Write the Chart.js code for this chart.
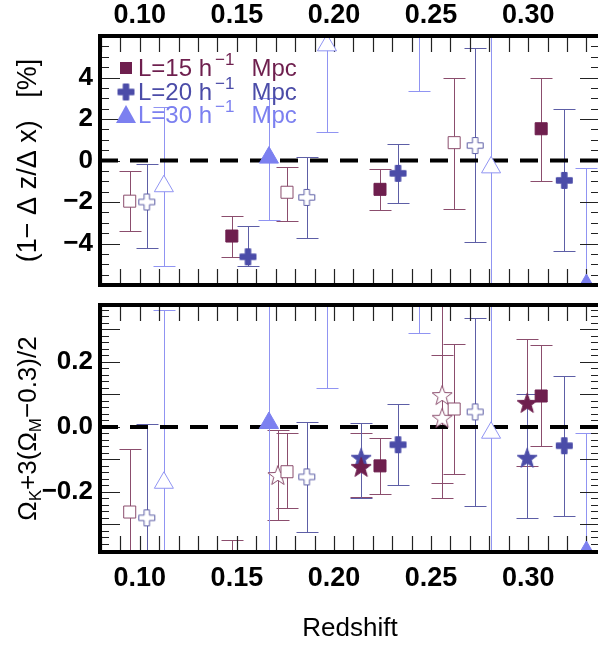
<!DOCTYPE html>
<html>
<head>
<meta charset="utf-8">
<script src="https://cdn.jsdelivr.net/npm/chart.js@4.4.1/dist/chart.umd.min.js"></script>
<style>
html, body { margin: 0; padding: 0; background: #fff; overflow: hidden; width: 598px; height: 645px; }
canvas { position: absolute; left: 0; }
#top { top: 0; }
#bot { top: 290px; }
</style>
</head>
<body>
<canvas id="top" width="604" height="290"></canvas>
<canvas id="bot" width="604" height="355"></canvas>
<script>
// 横轴：红移
const zMin = 0.0795, zMax = 0.337;
const zTicks = [0.10, 0.15, 0.20, 0.25, 0.30];

// 纵轴范围与刻度
const dMin = -6, dMax = 6;
const dTicks = [-4, -2, 0, 2, 4];
const oMin = -0.385, oMax = 0.375;
const oTicks = [-0.2, 0.0, 0.2];

// 各组的红移位置（实心 / 空心）
const zFill15 = [0.1474, 0.2237, 0.3067];
const zOpen15 = [0.0948, 0.1758, 0.2619];
const zFill20 = [0.1557, 0.2330, 0.3186];
const zOpen20 = [0.1036, 0.1860, 0.2727];
const zFill30 = [0.1665, 0.2438, 0.3300];
const zOpen30 = [0.1124, 0.1964, 0.2809];

// 上图 (1-Δz/Δx) [%]：值、误差上端、误差下端
const dFill15 = [-3.64, -1.39, 1.53], dFill15Hi = [-2.68, -0.43, 3.97], dFill15Lo = [-4.64, -2.39, -1.00];
const dOpen15 = [-1.96, -1.53, 0.86], dOpen15Hi = [-0.53, -0.29, 4.00], dOpen15Lo = [-3.40, -2.90, -2.34];
const dFill20 = [-4.64, -0.62, -0.96], dFill20Hi = [-3.16, 0.81, 2.49], dFill20Lo = [-5.07, -2.06, -4.35];
const dOpen20 = [-2.00, -1.78, 0.72], dOpen20Hi = [-0.19, 0.19, 5.40], dOpen20Lo = [-4.20, -3.74, -3.92];
const dFill30 = [0.14, 8.00, -6.00], dFill30Hi = [3.00, 12.0, -0.35], dFill30Lo = [-2.87, 3.35, -12.0];
const dOpen30 = [-1.24, 5.55, -0.33], dOpen30Hi = [2.60, 12.0, 10.0], dOpen30Lo = [-5.10, 1.39, -10.0];

// 下图 ΩK+3(ΩM-0.3)/2
const oFill15 = [-0.45, -0.120, 0.095], oFill15Hi = [-0.348, -0.034, 0.252], oFill15Lo = [-0.55, -0.206, -0.058];
const oOpen15 = [-0.262, -0.138, 0.055], oOpen15Hi = [-0.068, -0.018, 0.255], oOpen15Lo = [-0.50, -0.250, -0.145];
const oFill20 = [-0.50, -0.055, -0.058], oFill20Hi = [-0.42, 0.071, 0.157], oFill20Lo = [-0.60, -0.180, -0.274];
const oOpen20 = [-0.280, -0.154, 0.046], oOpen20Hi = [0.010, 0.015, 0.335], oOpen20Lo = [-0.50, -0.323, -0.243];
const oFill30 = [0.012, 0.50, -0.385], oFill30Hi = [0.45, 0.70, -0.020], oFill30Lo = [-0.50, 0.290, -0.70];
const oOpen30 = [-0.172, 0.50, -0.018], oOpen30Hi = [0.360, 0.70, 0.45], oOpen30Lo = [-0.50, 0.120, -0.50];

// 下图的星号点
const zStarA = [0.2140, 0.2995], oStarA = [-0.123, 0.074], oStarAHi = [-0.020, 0.270], oStarALo = [-0.215, -0.120];
const zStarB = [0.2140, 0.2995], oStarB = [-0.095, -0.095], oStarBHi = [0.012, 0.100], oStarBLo = [-0.220, -0.280];
const zStarO = [0.1711, 0.2557, 0.2557], oStarO = [-0.148, 0.098, 0.028], oStarOHi = [-0.010, 0.450, 0.220], oStarOLo = [-0.286, -0.218, -0.172];

// 图例
const keyLabels = ['L=15 h', 'L=20 h', 'L=30 h'];

// 颜色
const c15 = '#6e1f4e', c20 = '#4b4ca8', c30 = '#7c80f0';
const e15 = '#8b4d6d', e20 = '#5d5ea6', e30 = '#9094f2';

const FONT = '"Liberation Sans", Arial, Helvetica, sans-serif';

// 粗十字
function plusImg(fill, stroke) {
    const c = document.createElement('canvas');
    c.width = c.height = 19;
    const g = c.getContext('2d');
    const m = 9.5, h = 8, a = 2.7;
    g.beginPath();
    g.moveTo(m - a, m - h); g.lineTo(m + a, m - h); g.lineTo(m + a, m - a); g.lineTo(m + h, m - a);
    g.lineTo(m + h, m + a); g.lineTo(m + a, m + a); g.lineTo(m + a, m + h); g.lineTo(m - a, m + h);
    g.lineTo(m - a, m + a); g.lineTo(m - h, m + a); g.lineTo(m - h, m - a); g.lineTo(m - a, m - a);
    g.closePath();
    g.fillStyle = fill; g.fill();
    g.strokeStyle = stroke; g.lineWidth = 1; g.stroke();
    return c;
}

// 五角星
function starImg(fill, stroke) {
    const c = document.createElement('canvas');
    c.width = c.height = 24;
    const g = c.getContext('2d');
    const m = 12, R = 10.5, r = 4.3;
    g.beginPath();
    for (let i = 0; i < 10; i++) {
        const rr = i % 2 === 0 ? R : r;
        const ang = -Math.PI / 2 + i * Math.PI / 5;
        const px = m + rr * Math.cos(ang), py = m + 1 + rr * Math.sin(ang);
        if (i === 0) g.moveTo(px, py); else g.lineTo(px, py);
    }
    g.closePath();
    g.fillStyle = fill; g.fill();
    g.strokeStyle = stroke; g.lineWidth = 1; g.stroke();
    return c;
}

const plusFill = plusImg(c20, c20);
const plusOpen = plusImg('#fff', e20);
const starA = starImg(c15, c15);
const starB = starImg(c20, c20);
const starO = starImg('#fff', e15);

function series(xs, ys, hi, lo, color, errColor, style, open, radius) {
    return {
        data: xs.map((x, i) => ({ x: x, y: ys[i] })),
        errHi: hi,
        errLo: lo,
        errColor: errColor,
        pointStyle: style,
        pointRadius: radius,
        pointBackgroundColor: open ? '#fff' : color,
        pointBorderColor: open ? errColor : color,
        pointBorderWidth: 1,
        clip: 0,
        order: 1
    };
}

function zeroLine() {
    return {
        type: 'line',
        data: [{ x: zMin, y: 0 }, { x: zMax, y: 0 }],
        borderColor: '#000',
        borderWidth: 4,
        borderDash: [18, 12],
        pointRadius: 0,
        showLine: true,
        clip: 0,
        order: 100
    };
}

// 误差棒（画在数据点下面）
const errorBars = {
    id: 'errorBars',
    beforeDatasetsDraw(chart) {
        const { ctx, chartArea: a, scales: { x, y } } = chart;
        ctx.save();
        ctx.beginPath();
        ctx.rect(a.left, a.top, a.width, a.height);
        ctx.clip();
        ctx.lineWidth = 1;
        chart.data.datasets.forEach(ds => {
            if (!ds.errHi) return;
            ctx.strokeStyle = ds.errColor;
            ds.data.forEach((p, i) => {
                const px = Math.round(x.getPixelForValue(p.x)) + 0.5;
                const yh = Math.round(y.getPixelForValue(ds.errHi[i])) + 0.5;
                const yl = Math.round(y.getPixelForValue(ds.errLo[i])) + 0.5;
                ctx.beginPath();
                ctx.moveTo(px, yh); ctx.lineTo(px, yl);
                ctx.moveTo(px - 11, yh); ctx.lineTo(px + 11, yh);
                ctx.moveTo(px - 11, yl); ctx.lineTo(px + 11, yl);
                ctx.stroke();
            });
        });
        ctx.restore();
    }
};

// 边框和内向刻度
const frame = {
    id: 'frame',
    beforeDatasetsDraw(chart, args, opts) {
        const { ctx, chartArea: a, scales: { x, y } } = chart;
        ctx.save();
        ctx.strokeStyle = '#222';
        ctx.lineWidth = 1.2;
        ctx.beginPath();
        for (let k = Math.ceil(x.min * 100); k <= Math.floor(x.max * 100); k++) {
            const px = Math.round(x.getPixelForValue(k / 100)) + 0.5;
            ctx.moveTo(px, a.top); ctx.lineTo(px, a.top + 16);
            ctx.moveTo(px, a.bottom); ctx.lineTo(px, a.bottom - 16);
        }
        const n0 = Math.ceil(y.min / opts.minor - 1e-6), n1 = Math.floor(y.max / opts.minor + 1e-6);
        for (let k = n0; k <= n1; k++) {
            const v = k * opts.minor;
            const major = Math.abs(v / opts.major - Math.round(v / opts.major)) < 1e-6;
            const len = major ? 20 : 9;
            const py = Math.round(y.getPixelForValue(v)) + 0.5;
            ctx.moveTo(a.left, py); ctx.lineTo(a.left + len, py);
            ctx.moveTo(a.right, py); ctx.lineTo(a.right - len, py);
        }
        ctx.stroke();
        ctx.restore();
    },
    afterDatasetsDraw(chart) {
        const { ctx, chartArea: a } = chart;
        ctx.save();
        ctx.strokeStyle = '#000';
        ctx.lineWidth = 4;
        ctx.strokeRect(a.left, a.top, a.width, a.height);
        ctx.restore();
    }
};

// 图例（上图左上角）
const keyBox = {
    id: 'keyBox',
    afterDraw(chart) {
        const ctx = chart.ctx;
        const rows = [
            { y: 68, color: c15, mark: 'rect' },
            { y: 92, color: c20, mark: 'plus' },
            { y: 115, color: c30, mark: 'tri' }
        ];
        ctx.save();
        rows.forEach((r, i) => {
            ctx.fillStyle = r.color;
            if (r.mark === 'rect') {
                ctx.fillRect(120, r.y - 6, 12, 12);
            } else if (r.mark === 'plus') {
                ctx.drawImage(plusFill, 126 - 9.5, r.y - 9.5);
            } else {
                ctx.beginPath();
                ctx.moveTo(126, r.y - 10); ctx.lineTo(136, r.y + 8); ctx.lineTo(116, r.y + 8);
                ctx.closePath(); ctx.fill();
            }
            const base = r.y + 8;
            let tx = 138;
            ctx.font = '24px ' + FONT;
            ctx.textBaseline = 'alphabetic';
            ctx.fillText(keyLabels[i], tx, base);
            tx += ctx.measureText(keyLabels[i]).width + 3;
            ctx.font = '17px ' + FONT;
            ctx.fillText('−1', tx, base - 11);
            tx += ctx.measureText('−1').width + 17;
            ctx.font = '24px ' + FONT;
            ctx.fillText('Mpc', tx, base);
        });
        ctx.restore();
    }
};

// 下图纵轴标题（带下标）
const omegaTitle = {
    id: 'omegaTitle',
    afterDraw(chart) {
        const { ctx, chartArea: a } = chart;
        const segs = [['Ω', 0], ['K', 1], ['+3(Ω', 0], ['M', 1], ['−0.3)/2', 0]];
        const big = '26px ' + FONT, small = '17px ' + FONT;
        ctx.save();
        let total = 0;
        segs.forEach(s => { ctx.font = s[1] ? small : big; total += ctx.measureText(s[0]).width; });
        ctx.translate(27, (a.top + a.bottom) / 2);
        ctx.rotate(-Math.PI / 2);
        ctx.fillStyle = '#000';
        ctx.textBaseline = 'alphabetic';
        let tx = -total / 2;
        segs.forEach(s => {
            ctx.font = s[1] ? small : big;
            ctx.fillText(s[0], tx, s[1] ? 14 : 9);
            tx += ctx.measureText(s[0]).width;
        });
        ctx.restore();
    }
};

const xFont = { family: FONT, size: 27, weight: 'bold' };
const yFont = { family: FONT, size: 26, weight: 'bold' };
const fmtD = v => (v < 0 ? '−' + Math.abs(v) : String(v));
const fmtO = v => (Math.abs(v) < 1e-9 ? '0.0' : (v < 0 ? '−' + Math.abs(v).toFixed(1) : v.toFixed(1)));

function xScale(pos, h, title) {
    return {
        type: 'linear',
        position: pos,
        min: zMin,
        max: zMax,
        grid: { display: false, drawTicks: false },
        border: { display: false },
        afterBuildTicks: s => { s.ticks = zTicks.map(v => ({ value: v })); },
        afterFit: s => { s.height = h; s.paddingLeft = 0; s.paddingRight = 0; },
        ticks: {
            padding: pos === 'top' ? 4 : 10,
            font: xFont,
            color: '#000',
            maxRotation: 0,
            autoSkip: false,
            callback: v => v.toFixed(2)
        },
        title: title ? { display: true, text: title, color: '#000', font: { family: FONT, size: 26 }, padding: { top: 0, bottom: 1 } } : { display: false }
    };
}

function yScale(min, max, ticks, fmt, title) {
    return {
        type: 'linear',
        min: min,
        max: max,
        grid: { display: false, drawTicks: false },
        border: { display: false },
        afterBuildTicks: s => { s.ticks = ticks.map(v => ({ value: v })); },
        afterFit: s => { s.width = 100; s.paddingTop = 0; s.paddingBottom = 0; },
        ticks: { padding: 7, font: yFont, color: '#000', callback: fmt },
        title: title ? { display: true, text: title, color: '#000', font: { family: FONT, size: 27 }, padding: { top: 12 } } : { display: false }
    };
}

const common = {
    responsive: false,
    animation: false,
    events: [],
    plugins: { legend: { display: false }, tooltip: { enabled: false } }
};

new Chart(document.getElementById('top'), {
    type: 'scatter',
    data: {
        datasets: [
            zeroLine(),
            series(zOpen15, dOpen15, dOpen15Hi, dOpen15Lo, c15, e15, 'rect', true, 8.5),
            series(zOpen20, dOpen20, dOpen20Hi, dOpen20Lo, c20, e20, plusOpen, true, 9),
            series(zOpen30, dOpen30, dOpen30Hi, dOpen30Lo, c30, e30, 'triangle', true, 11),
            series(zFill15, dFill15, dFill15Hi, dFill15Lo, c15, e15, 'rect', false, 8.5),
            series(zFill20, dFill20, dFill20Hi, dFill20Lo, c20, e20, plusFill, false, 9),
            series(zFill30, dFill30, dFill30Hi, dFill30Lo, c30, e30, 'triangle', false, 11)
        ]
    },
    options: Object.assign({}, common, {
        layout: { autoPadding: false, padding: { left: 0, right: 4, top: 0, bottom: 5 } },
        plugins: Object.assign({}, common.plugins, { frame: { minor: 0.5, major: 2 } }),
        scales: {
            x: xScale('top', 36, null),
            y: yScale(dMin, dMax, dTicks, fmtD, '(1− Δ z/Δ x)   [%]')
        }
    }),
    plugins: [errorBars, frame, keyBox]
});

new Chart(document.getElementById('bot'), {
    type: 'scatter',
    data: {
        datasets: [
            zeroLine(),
            series(zOpen15, oOpen15, oOpen15Hi, oOpen15Lo, c15, e15, 'rect', true, 8.5),
            series(zOpen20, oOpen20, oOpen20Hi, oOpen20Lo, c20, e20, plusOpen, true, 9),
            series(zOpen30, oOpen30, oOpen30Hi, oOpen30Lo, c30, e30, 'triangle', true, 11),
            series(zStarO, oStarO, oStarOHi, oStarOLo, c15, e15, starO, true, 10),
            series(zFill15, oFill15, oFill15Hi, oFill15Lo, c15, e15, 'rect', false, 8.5),
            series(zFill20, oFill20, oFill20Hi, oFill20Lo, c20, e20, plusFill, false, 9),
            series(zFill30, oFill30, oFill30Hi, oFill30Lo, c30, e30, 'triangle', false, 11),
            series(zStarA, oStarA, oStarAHi, oStarALo, c15, e15, starA, false, 10),
            series(zStarB, oStarB, oStarBHi, oStarBLo, c20, e20, starB, false, 10)
        ]
    },
    options: Object.assign({}, common, {
        layout: { autoPadding: false, padding: { left: 0, right: 4, top: 15, bottom: 0 } },
        plugins: Object.assign({}, common.plugins, { frame: { minor: 0.02, major: 0.1 } }),
        scales: {
            x: xScale('bottom', 93, 'Redshift'),
            y: yScale(oMin, oMax, oTicks, fmtO, null)
        }
    }),
    plugins: [errorBars, frame, omegaTitle]
});
</script>
</body>
</html>
